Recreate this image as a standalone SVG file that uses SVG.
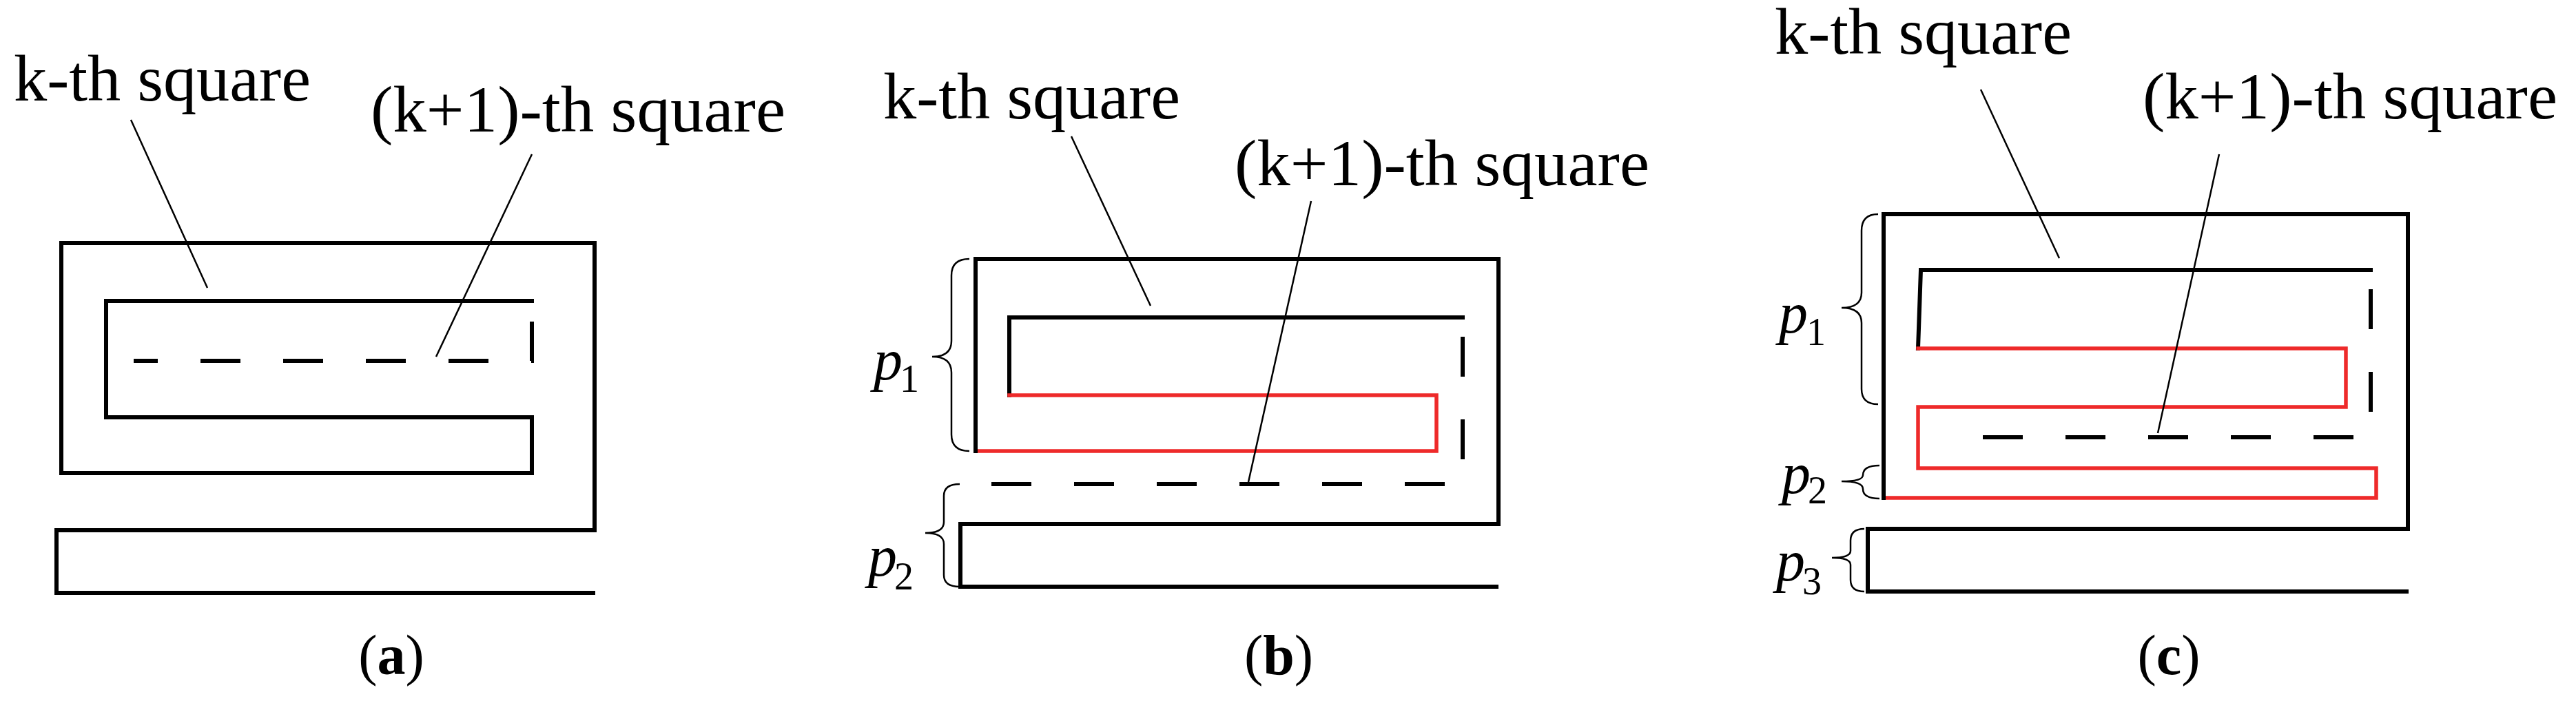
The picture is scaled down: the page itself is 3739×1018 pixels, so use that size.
<svg xmlns="http://www.w3.org/2000/svg" width="3739" height="1018" viewBox="0 0 3739 1018">
<style>
.s{fill:none;stroke:#000;stroke-width:6;stroke-linejoin:miter;stroke-linecap:square}
.r{fill:none;stroke:#ee2a2a;stroke-width:5.5;stroke-linecap:square}
.d{fill:none;stroke:#000;stroke-width:6;stroke-dasharray:58 62}
.l{fill:none;stroke:#000;stroke-width:2.5}
.b{fill:none;stroke:#000;stroke-width:2.5}
text{font-family:"Liberation Serif","Times New Roman","DejaVu Serif",serif;fill:#000}
.t{font-size:95px}
.p{font-style:italic;font-size:84px}
.sub{font-size:56px}
.c{font-size:82px;text-anchor:middle}
.cb{font-weight:bold}
</style>
<rect width="3739" height="1018" fill="#fff"/>
<g id="panel-a">
<path class="s" d="M772,437 L154,437 L154,606 L772,606 L772,687 L89,687 L89,353 L863,353 L863,770 L82,770 L82,861 L861,861"/>
<path class="d" d="M772,437 L772,524 L194,524" stroke-dashoffset="-30"/>
<text class="t" x="20" y="146" textLength="431" lengthAdjust="spacingAndGlyphs">k-th square</text>
<text class="t" x="538" y="191" textLength="602" lengthAdjust="spacingAndGlyphs">(k+1)-th square</text>
<text class="c" x="568" y="979">(<tspan class="cb">a</tspan>)</text>
</g>
<g id="panel-b">
<path class="s" d="M2123,461 L1465,461 L1465,574"/>
<path class="r" d="M1465,574 L2085,574 L2085,655 L1416,655"/>
<path class="s" d="M1416,655 L1416,376 L2175,376 L2175,761 L1394,761 L1394,852 L2172,852"/>
<path class="d" d="M2123,461 L2123,703 L1393,703" stroke-dashoffset="-28"/>
<path class="b" d="M1407,376 Q1381,376 1381,400 L1381,495 Q1381,518 1353,518 Q1381,518 1381,541 L1381,631 Q1381,655 1407,655"/>
<path class="b" d="M1393,703 Q1370,703 1370,720 L1370,758 Q1370,774 1343,774 Q1370,774 1370,790 L1370,835 Q1370,852 1393,852"/>
<text class="p" x="1268" y="551">p</text><text class="sub" x="1306" y="569">1</text>
<text class="p" x="1260" y="836">p</text><text class="sub" x="1298" y="856">2</text>
<text class="t" x="1282" y="172" textLength="431" lengthAdjust="spacingAndGlyphs">k-th square</text>
<text class="t" x="1792" y="269" textLength="602" lengthAdjust="spacingAndGlyphs">(k+1)-th square</text>
<text class="c" x="1856" y="979">(<tspan class="cb">b</tspan>)</text>
</g>
<g id="panel-c">
<path class="s" d="M3441,392 L2788,392 L2784,506"/>
<path class="r" d="M2784,506 L3405,506 L3405,591 L2784,591 L2784,680 L3449,680 L3449,723 L2734,723"/>
<path class="s" d="M2734,723 L2734,311 L3495,311 L3495,768 L2711,768 L2711,859 L3493,859"/>
<path class="d" d="M3441,392 L3441,635 L2822,635" stroke-dashoffset="-28"/>
<path class="b" d="M2726,311 Q2702,311 2702,335 L2702,425 Q2702,447 2673,447 Q2702,447 2702,469 L2702,565 Q2702,587 2726,587"/>
<path class="b" d="M2728,676 Q2704,676 2704,690 Q2704,699 2673,699 Q2704,699 2704,710 Q2704,724 2728,724"/>
<path class="b" d="M2706,768 Q2686,768 2686,785 L2686,800 Q2686,810 2659,810 Q2686,810 2686,820 L2686,842 Q2686,859 2706,859"/>
<text class="p" x="2582" y="483">p</text><text class="sub" x="2622" y="501">1</text>
<text class="p" x="2586" y="716">p</text><text class="sub" x="2624" y="731">2</text>
<text class="p" x="2578" y="843">p</text><text class="sub" x="2616" y="863">3</text>
<text class="t" x="2576" y="78" textLength="431" lengthAdjust="spacingAndGlyphs">k-th square</text>
<text class="t" x="3110" y="172" textLength="602" lengthAdjust="spacingAndGlyphs">(k+1)-th square</text>
<text class="c" x="3148" y="979">(<tspan class="cb">c</tspan>)</text>
</g>
<g id="connectors">
<line class="l" x1="190" y1="174" x2="301" y2="418"/>
<line class="l" x1="772" y1="224" x2="633" y2="518"/>
<line class="l" x1="1555" y1="198" x2="1670" y2="444"/>
<line class="l" x1="1903" y1="292" x2="1812" y2="700"/>
<line class="l" x1="2875" y1="130" x2="2989" y2="375"/>
<line class="l" x1="3221" y1="224" x2="3132" y2="629"/>
</g>
</svg>
